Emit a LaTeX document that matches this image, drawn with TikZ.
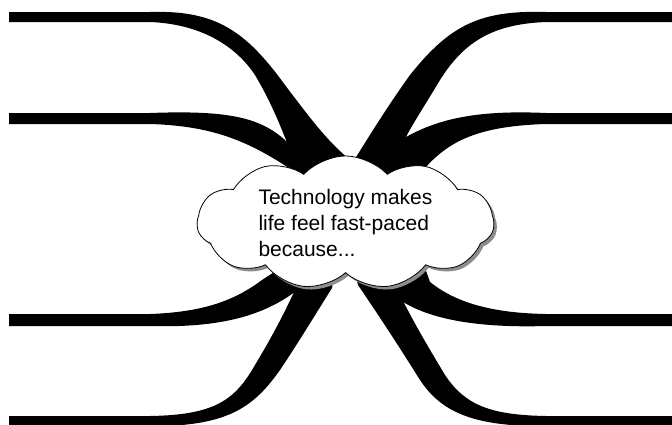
\documentclass[tikz,border=0pt]{standalone}
\usepackage{fontspec}
\setmainfont{Liberation Sans}
\usetikzlibrary{shapes.symbols, shadows}

\begin{document}
\begin{tikzpicture}[x=1pt,y=-1pt]
    \useasboundingbox (0,0) rectangle (672,424);
    \clip (0,0) rectangle (672,424);

    % rami a sinistra
    \fill (9,12) -- (150,12) .. controls (215,10) and (245,30) .. (285,85)
        .. controls (310,118) and (330,145) .. (353,162) -- (353,178) -- (292,178) -- (286,140)
        .. controls (280,125) and (270,100) .. (255,75)
        .. controls (235,45) and (200,24) .. (150,22) -- (9,22) -- cycle;
    \fill (9,113) -- (150,113) .. controls (230,110) and (260,118) .. (285,140)
        -- (310,178) -- (295,172) .. controls (250,142) and (215,126) .. (150,124)
        -- (9,124) -- cycle;
    \fill (9,314) -- (150,314) .. controls (205,312) and (235,300) .. (262,280)
        -- (285,265) -- (300,288) .. controls (265,316) and (220,328) .. (150,326)
        -- (9,326) -- cycle;
    \fill (9,416) -- (150,416) .. controls (215,415) and (235,400) .. (255,365)
        .. controls (270,340) and (282,318) .. (295,290) -- (300,270) -- (335,270) -- (332,288)
        .. controls (315,315) and (300,340) .. (280,370)
        .. controls (255,405) and (230,427) .. (150,426) -- (9,426) -- cycle;

    % rami a destra
    \fill (680,12) -- (546,12) .. controls (480,10) and (450,25) .. (410,75)
        .. controls (385,110) and (370,135) .. (353,162) -- (353,178) -- (410,178) -- (406,137)
        .. controls (412,125) and (425,105) .. (440,80)
        .. controls (465,40) and (495,24) .. (546,22) -- (680,22) -- cycle;
    \fill (680,113) -- (546,113) .. controls (480,110) and (440,118) .. (406,137)
        -- (400,178) -- (425,168) .. controls (450,140) and (480,126) .. (546,124)
        -- (680,124) -- cycle;
    \fill (680,314) -- (546,314) .. controls (490,313) and (455,302) .. (430,282)
        -- (425,268) -- (395,270) -- (400,300) .. controls (430,320) and (480,328) .. (546,326)
        -- (680,326) -- cycle;
    \fill (680,416) -- (546,416) .. controls (490,415) and (465,405) .. (445,375)
        .. controls (430,350) and (415,325) .. (400,295) -- (395,272) -- (355,272) -- (358,285)
        .. controls (375,310) and (395,340) .. (420,380)
        .. controls (440,410) and (470,427) .. (546,426) -- (680,426) -- cycle;

    % nuvola
    \node[cloud, cloud puffs=11, cloud puff arc=95, aspect=2.3,
          minimum width=297pt, minimum height=132pt, inner sep=0pt,
          draw, line width=0.8pt, fill=white,
          drop shadow={shadow xshift=3pt, shadow yshift=-3pt, fill=black!45, opacity=1},
          align=left, font=\fontsize{21}{26}\selectfont]
        (idea) at (345.5,222.5) {Technology makes\\life feel fast-paced\\because...};
\end{tikzpicture}
\end{document}
